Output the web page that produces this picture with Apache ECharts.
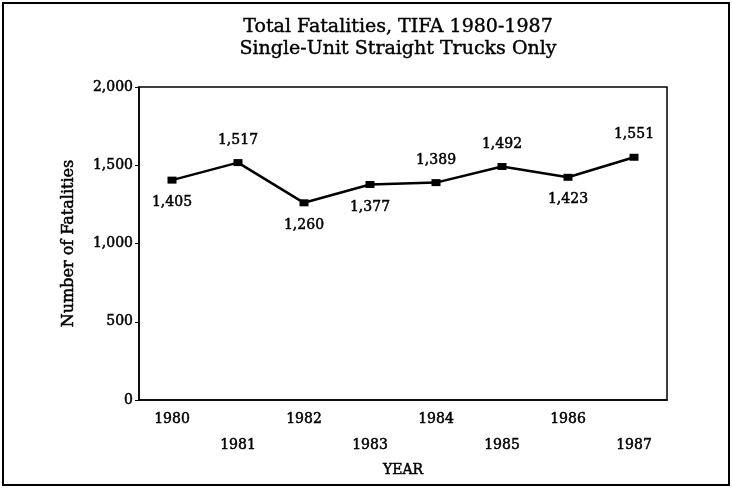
<!DOCTYPE html>
<html>
<head>
	<meta charset="utf-8">
	<title>Total Fatalities, TIFA 1980-1987</title>
	<script src="https://cdn.jsdelivr.net/npm/echarts@6/dist/echarts.min.js"></script>
	<style>
		html, body { margin: 0; padding: 0; background: #fff; }
		#chart { width: 732px; height: 488px; }
	</style>
</head>
<body>
	<div id="chart"></div>
	<script type="text/javascript">
	var years = ['1980', '1981', '1982', '1983', '1984', '1985', '1986', '1987'];
	var fatalities = [1405, 1517, 1260, 1377, 1389, 1492, 1423, 1551];
	// where each value label sits relative to its point
	var labelPos = ['bottom', 'top', 'bottom', 'bottom', 'top', 'top', 'bottom', 'top'];
	var yTicks = [0, 500, 1000, 1500, 2000];

	var serif = 'DejaVu Serif';
	// thin outline to get the heavy, printed look of the original lettering
	var ink = { fontFamily: serif, color: '#000', textBorderColor: '#000', textBorderWidth: 0.5 };

	var chart = echarts.init(document.getElementById('chart'));

	var points = fatalities.map(function (v, i) {
		return { value: v, label: { position: labelPos[i] } };
	});

	chart.setOption({
		animation: false,
		backgroundColor: '#fff',
		graphic: [{
			type: 'rect',
			shape: { x: 3, y: 3, width: 726, height: 482 },
			style: { fill: null, stroke: '#000', lineWidth: 2 }
		}, {
			// title, centred over the plot rather than the page
			type: 'text',
			x: 398,
			y: 16,
			style: {
				text: 'Total Fatalities, TIFA 1980-1987\nSingle-Unit Straight Trucks Only',
				align: 'center',
				verticalAlign: 'top',
				font: '19px "DejaVu Serif"',
				lineHeight: 22,
				fill: '#000',
				stroke: '#000',
				lineWidth: 0.4
			}
		}],
		grid: { left: 139, right: 65, top: 87, bottom: 88, show: true, borderColor: '#000', borderWidth: 1.5 },
		xAxis: {
			type: 'category',
			data: years,
			name: 'YEAR',
			nameLocation: 'middle',
			nameGap: 49,
			nameTextStyle: Object.assign({ fontSize: 14 }, ink),
			axisLine: { lineStyle: { color: '#000', width: 1.5 } },
			axisTick: { alignWithLabel: true, length: 4, lineStyle: { color: '#000' } },
			axisLabel: Object.assign({
				fontSize: 14,
				margin: 6,
				lineHeight: 26,
				interval: 0,
				formatter: function (v, i) { return i % 2 ? '\n' + v : v; }
			}, ink)
		},
		yAxis: {
			type: 'value',
			min: yTicks[0],
			max: yTicks[yTicks.length - 1],
			interval: 500,
			name: 'Number of Fatalities',
			nameLocation: 'middle',
			nameGap: 62,
			nameTextStyle: Object.assign({ fontSize: 16 }, ink),
			splitLine: { show: false },
			axisLine: { show: true, lineStyle: { color: '#000', width: 1.5 } },
			axisTick: { show: true, length: 4, lineStyle: { color: '#000' } },
			axisLabel: Object.assign({
				fontSize: 14,
				margin: 6,
				formatter: function (v) { return v.toLocaleString('en-US'); }
			}, ink)
		},
		series: [{
			type: 'line',
			data: points,
			symbol: 'rect',
			symbolSize: [9, 7],
			lineStyle: { color: '#000', width: 2.5 },
			itemStyle: { color: '#000' },
			label: Object.assign({
				show: true,
				distance: 12,
				fontSize: 14,
				formatter: function (p) { return p.value.toLocaleString('en-US'); }
			}, ink)
		}]
	});
	</script>
</body>
</html>
